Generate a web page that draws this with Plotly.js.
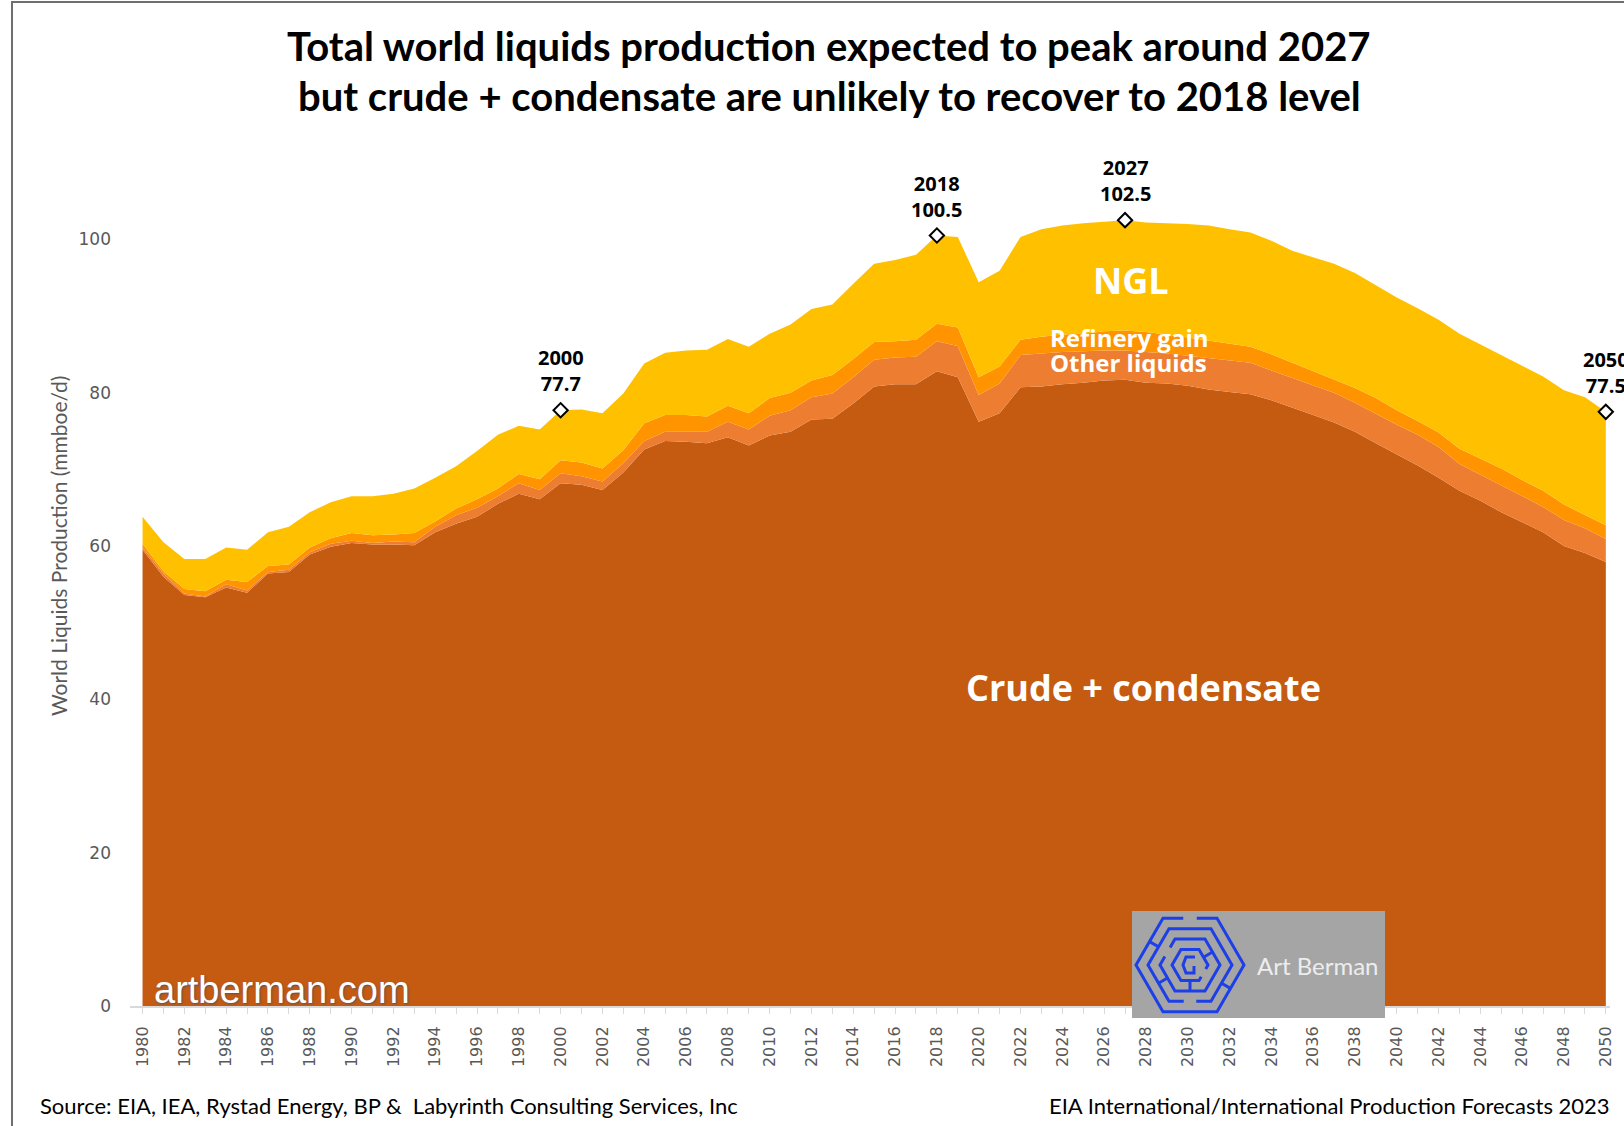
<!DOCTYPE html>
<html>
<head>
<meta charset="utf-8">
<script src="https://cdn.plot.ly/plotly-3.0.1.min.js"></script>
<style>html,body{margin:0;padding:0;background:#fff;}#chart{width:1624px;height:1126px;}</style>
</head>
<body>
<div id="chart"></div>
<script>
const years = [1980,1981,1982,1983,1984,1985,1986,1987,1988,1989,1990,1991,1992,1993,1994,1995,1996,1997,1998,1999,
2000,2001,2002,2003,2004,2005,2006,2007,2008,2009,2010,2011,2012,2013,2014,2015,2016,2017,2018,2019,
2020,2021,2022,2023,2024,2025,2026,2027,2028,2029,2030,2031,2032,2033,2034,2035,2036,2037,2038,2039,
2040,2041,2042,2043,2044,2045,2046,2047,2048,2049,2050];

const crude = [59.5,56.0,53.6,53.3,54.6,53.9,56.4,56.6,58.9,59.9,60.4,60.2,60.2,60.1,61.8,62.9,63.8,65.5,66.8,66.1,
68.2,68.0,67.3,69.6,72.6,73.7,73.6,73.4,74.2,73.1,74.4,74.9,76.5,76.6,78.6,80.8,81.1,81.1,82.8,82.0,
76.2,77.3,80.7,80.8,81.1,81.3,81.6,81.7,81.3,81.2,80.9,80.4,80.1,79.8,79.0,78.1,77.1,76.1,74.9,73.4,
72.0,70.5,68.9,67.2,65.9,64.4,63.1,61.8,60.0,59.1,57.9];

const otherLiquids = [0.3,0.4,0.2,0.1,0.4,0.3,0.2,0.3,0.3,0.4,0.3,0.2,0.4,0.4,0.7,1.1,1.2,1.0,1.4,1.2,
1.3,1.1,1.1,1.2,1.1,1.2,1.3,1.5,2.0,2.1,2.6,2.8,2.9,3.3,3.4,3.5,3.5,3.6,3.9,4.1,
3.5,3.9,4.2,4.3,4.2,4.1,3.9,3.8,4.0,3.9,3.9,4.1,4.1,4.1,3.9,3.8,3.9,3.9,3.8,3.8,
3.8,4.0,4.0,3.5,3.4,3.6,3.4,3.3,3.4,3.2,3.0];

const refineryGain = [0.5,0.3,0.6,0.7,0.6,1.1,0.8,0.7,0.6,0.7,1.0,1.0,0.9,1.2,0.7,0.9,1.1,1.0,1.2,1.4,
1.7,1.8,1.7,1.7,2.3,2.2,2.2,2.0,2.1,2.1,2.3,2.3,2.2,2.4,2.4,2.3,2.1,2.2,2.3,2.4,
2.3,2.2,2.0,2.2,2.3,2.3,2.5,2.6,2.6,2.5,2.4,2.3,2.2,2.1,2.1,2.0,1.8,1.7,1.9,2.1,
1.9,1.8,1.9,2.0,2.1,2.1,2.1,2.1,2.0,1.8,1.8];

const ngl = [3.5,3.8,3.9,4.2,4.2,4.2,4.4,4.9,4.6,4.7,4.8,5.1,5.3,5.8,5.7,5.5,6.3,7.0,6.3,6.5,
6.5,6.9,7.2,7.4,7.8,8.1,8.4,8.7,8.7,8.7,8.4,8.9,9.3,9.2,9.8,10.2,10.6,11.1,11.5,11.8,
12.4,12.5,13.4,14.0,14.2,14.4,14.3,14.4,14.3,14.5,14.8,15.0,14.9,14.9,14.8,14.6,14.9,15.1,15.0,14.7,
14.7,14.7,14.7,15.0,14.9,14.9,14.9,14.9,14.9,15.3,14.8];

const peakYears = [2000, 2018, 2027, 2050];
const peakValues = [77.7, 100.5, 102.5, 77.5];

const tickYears = [1980,1982,1984,1986,1988,1990,1992,1994,1996,1998,2000,2002,2004,2006,2008,2010,2012,2014,2016,2018,
2020,2022,2024,2026,2028,2030,2032,2034,2036,2038,2040,2042,2044,2046,2048,2050];
const tickLabels = tickYears.map(String);

const seriesNames = ["Crude + condensate", "Other liquids", "Refinery gain", "NGL"];
const seriesColors = ["#C55A11", "#ED7D31", "#FF9400", "#FFC000"];
const seriesData = [crude, otherLiquids, refineryGain, ngl];

// pixel -> paper helpers (plot area: l=130, width=1480, bottom=1006, height=920)
const ML = 130, PW = 1480, PB = 1006, PH = 920;
const px = X => (X - ML) / PW;
const py = Y => (PB - Y) / PH;

const traces = seriesData.map((d, i) => ({
  type: "scatter",
  x: years,
  y: d,
  name: seriesNames[i],
  mode: "lines",
  stackgroup: "one",
  line: {width: 0, color: seriesColors[i]},
  fillcolor: seriesColors[i],
  hoverinfo: "skip"
}));

traces.push({
  type: "scatter",
  x: peakYears,
  y: peakValues,
  mode: "markers",
  marker: {symbol: "diamond", size: 11, color: "#FFFFFF", line: {color: "#000000", width: 2}},
  cliponaxis: false,
  hoverinfo: "skip",
  showlegend: false
});

const annotations = [];
peakYears.forEach((yr, i) => {
  annotations.push({
    x: yr, y: peakValues[i], xref: "x", yref: "y",
    text: "<b>" + yr + "<br>" + peakValues[i].toFixed(1) + "</b>",
    showarrow: false, yanchor: "bottom", yshift: 11,
    font: {family: "Open Sans, sans-serif", size: 20, color: "#000000"}
  });
});

const F_TITLE = "Lato, sans-serif";
annotations.push(
  {xref: "paper", yref: "paper", x: px(829), y: py(46), text: "<b>Total world liquids production expected to peak around 2027</b>",
   showarrow: false, xanchor: "center", yanchor: "middle", font: {family: F_TITLE, size: 40, color: "#000000"}},
  {xref: "paper", yref: "paper", x: px(829), y: py(96), text: "<b>but crude + condensate are unlikely to recover to 2018 level</b>",
   showarrow: false, xanchor: "center", yanchor: "middle", font: {family: F_TITLE, size: 40, color: "#000000"}},
  {xref: "paper", yref: "paper", x: px(58), y: py(546), text: "World Liquids Production (mmboe/d)", textangle: -90,
   showarrow: false, xanchor: "center", yanchor: "middle", font: {family: "Lato, sans-serif", size: 21, color: "#595959"}},
  {xref: "paper", yref: "paper", x: px(1131), y: py(280), text: "<b>NGL</b>",
   showarrow: false, xanchor: "center", yanchor: "middle", font: {family: "Open Sans, sans-serif", size: 36, color: "#FFFFFF"}},
  {xref: "paper", yref: "paper", x: px(1129), y: py(337), text: "<b>Refinery gain</b>",
   showarrow: false, xanchor: "center", yanchor: "middle", font: {family: "Open Sans, sans-serif", size: 24, color: "#FFFFFF"}},
  {xref: "paper", yref: "paper", x: px(1128), y: py(362), text: "<b>Other liquids</b>",
   showarrow: false, xanchor: "center", yanchor: "middle", font: {family: "Open Sans, sans-serif", size: 24, color: "#FFFFFF"}},
  {xref: "paper", yref: "paper", x: px(1143), y: py(687), text: "<b>Crude + condensate</b>",
   showarrow: false, xanchor: "center", yanchor: "middle", font: {family: "Open Sans, sans-serif", size: 36, color: "#FFFFFF"}},
  {xref: "paper", yref: "paper", x: px(152), y: py(990), text: "artberman.com",
   showarrow: false, xanchor: "left", yanchor: "middle",
   font: {family: "Liberation Sans, Arial, sans-serif", size: 38, color: "#FFFFFF", shadow: "1px 1px 2px #555555"}},
  {xref: "paper", yref: "paper", x: px(1318), y: py(965), text: "Art Berman",
   showarrow: false, xanchor: "center", yanchor: "middle", font: {family: "Lato, sans-serif", size: 24, color: "#EDEDED"}},
  {xref: "paper", yref: "paper", x: px(38), y: py(1105), text: "Source: EIA, IEA, Rystad Energy, BP &amp;  Labyrinth Consulting Services, Inc",
   showarrow: false, xanchor: "left", yanchor: "middle", font: {family: "Lato, sans-serif", size: 22, color: "#000000"}},
  {xref: "paper", yref: "paper", x: px(1612), y: py(1105), text: "EIA International/International Production Forecasts 2023",
   showarrow: false, xanchor: "right", yanchor: "middle", font: {family: "Lato, sans-serif", size: 22, color: "#000000"}}
);

// shapes: frame lines, logo box and hexagonal maze
const shapes = [
  {type: "line", xref: "paper", yref: "paper", x0: px(12), x1: px(12), y0: py(1), y1: py(1126), line: {color: "#6E6E6E", width: 2}, layer: "above"},
  {type: "line", xref: "paper", yref: "paper", x0: px(12), x1: px(1624), y0: py(2), y1: py(2), line: {color: "#6E6E6E", width: 2}, layer: "above"},
  {type: "rect", xref: "paper", yref: "paper", x0: px(1132), x1: px(1385), y0: py(1018), y1: py(911), fillcolor: "#A5A5A5", line: {width: 0}, layer: "above"}
];

function hexPts(cx, cy, r) {
  const pts = [];
  for (let i = 0; i < 6; i++) {
    const a = i * Math.PI / 3;
    pts.push([cx + r * Math.cos(a), cy + r * Math.sin(a)]);
  }
  return pts;
}
function ringPath(cx, cy, r, skip, gapFrac) {
  const p = hexPts(cx, cy, r);
  const a = p[skip], b = p[(skip + 1) % 6];
  const g0 = 0.5 - gapFrac / 2, g1 = 0.5 + gapFrac / 2;
  const s = [a[0] + (b[0] - a[0]) * g1, a[1] + (b[1] - a[1]) * g1];
  const e = [a[0] + (b[0] - a[0]) * g0, a[1] + (b[1] - a[1]) * g0];
  let d = "M " + px(s[0]) + "," + py(s[1]);
  for (let k = 1; k <= 6; k++) {
    const v = p[(skip + k) % 6];
    d += " L " + px(v[0]) + "," + py(v[1]);
  }
  d += " L " + px(e[0]) + "," + py(e[1]);
  return d;
}
const cx = 1190, cy = 965;
const rings = [[54, 4, 0.25], [42, 1, 0.3], [30, 3, 0.35], [18, 0, 0.5]];
rings.forEach(r => {
  shapes.push({type: "path", xref: "paper", yref: "paper", path: ringPath(cx, cy, r[0], r[1], r[2]),
    line: {color: "#1C3FE8", width: 3}, layer: "above"});
});
const conn = [[0, 42, 54], [2, 30, 42], [5, 18, 30], [3, 42, 54], [1, 18, 30]];
conn.forEach(c => {
  const a = c[0] * Math.PI / 3 + Math.PI / 6;
  const h = Math.cos(Math.PI / 6);
  const x0 = cx + c[1] * h * Math.cos(a), y0 = cy + c[1] * h * Math.sin(a);
  const x1 = cx + c[2] * h * Math.cos(a), y1 = cy + c[2] * h * Math.sin(a);
  shapes.push({type: "line", xref: "paper", yref: "paper", x0: px(x0), y0: py(y0), x1: px(x1), y1: py(y1),
    line: {color: "#1C3FE8", width: 3}, layer: "above"});
});
shapes.push({type: "path", xref: "paper", yref: "paper",
  path: "M " + px(cx + 5) + "," + py(cy - 8) + " L " + px(cx - 4) + "," + py(cy - 8) + " L " + px(cx - 7) + "," + py(cy) +
        " L " + px(cx - 4) + "," + py(cy + 8) + " L " + px(cx + 4) + "," + py(cy + 8) + " L " + px(cx + 4) + "," + py(cy + 1),
  line: {color: "#1C3FE8", width: 3}, layer: "above"});

const layout = {
  width: 1624, height: 1126,
  margin: {l: ML, r: 14, t: 86, b: 120, pad: 0},
  paper_bgcolor: "#FFFFFF", plot_bgcolor: "#FFFFFF",
  showlegend: false,
  xaxis: {
    range: [1979.4, 2050.2],
    tickmode: "array", tickvals: tickYears, ticktext: tickLabels,
    tickangle: -90,
    ticks: "outside", ticklen: 6, tickwidth: 1, tickcolor: "#D9D9D9",
    minor: {tickmode: "linear", tick0: 1980, dtick: 1, ticks: "outside", ticklen: 6, tickcolor: "#D9D9D9", showgrid: false},
    showline: true, linecolor: "#D9D9D9", linewidth: 2,
    showgrid: false, zeroline: false,
    ticklabelstandoff: 6,
    tickfont: {family: "DejaVu Sans, sans-serif", size: 16, color: "#595959"}
  },
  yaxis: {
    range: [0, 120],
    tickmode: "array", tickvals: [0, 20, 40, 60, 80, 100],
    showgrid: false, zeroline: false, showline: false, ticks: "",
    ticklabelstandoff: 18,
    tickfont: {family: "DejaVu Sans, sans-serif", size: 17, color: "#595959"}
  },
  annotations: annotations,
  shapes: shapes
};

Plotly.newPlot("chart", traces, layout, {displayModeBar: false, staticPlot: true});
</script>
</body>
</html>
